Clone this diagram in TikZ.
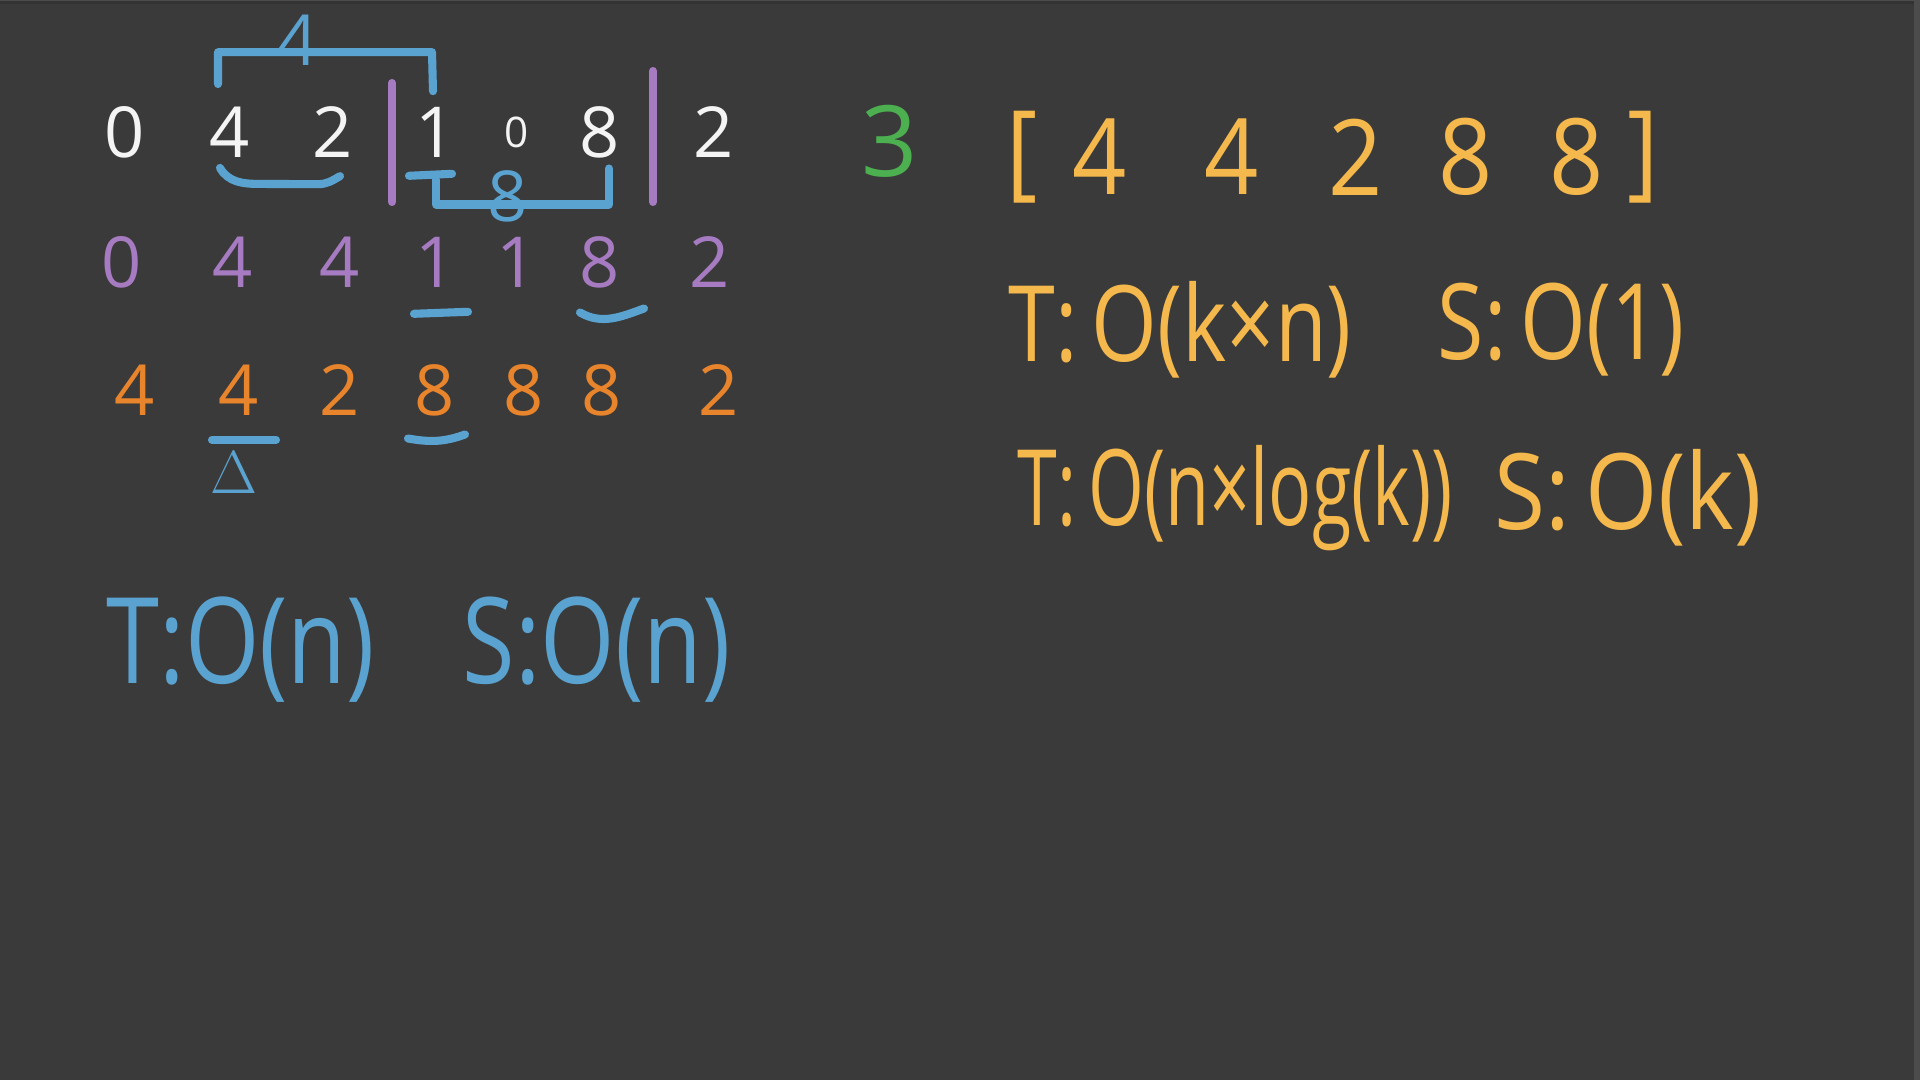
\documentclass[tikz,border=0pt]{standalone}
\usepackage{fontspec}
\setmainfont{Open Sans}
\usepackage{graphicx}
\usetikzlibrary{positioning,calc}
\definecolor{board-bg}{HTML}{3A3A3A}
\definecolor{ink-white}{HTML}{F4F4F4}
\definecolor{ink-purple}{HTML}{A77BC2}
\definecolor{ink-orange}{HTML}{E8852C}
\definecolor{ink-blue}{HTML}{5AA3D0}
\definecolor{ink-yellow}{HTML}{F4B84C}
\definecolor{ink-green}{HTML}{4CAF50}
\newcommand{\squeeze}[2][0.8]{\scalebox{#1}[1]{#2}}
\tikzset{
  digit/.style={inner sep=0pt,font=\fontsize{20}{20}\selectfont},
  bigtext/.style={inner sep=0pt,anchor=west,font=\fontsize{30}{30}\selectfont},
  pen/.style={line width=2.3pt,line cap=round,line join=round},
}

\begin{document}
\begin{tikzpicture}[x=0.01cm,y=-0.01cm]
  % board
  \fill[board-bg] (0,0) rectangle (1920,1080);
  \fill[black!80] (0,0) rectangle (1920,4);
  \fill[gray!60!black] (0,0) rectangle (1920,1.5);
  \fill[black!70] (1914,0) rectangle (1920,1080);
  \useasboundingbox (0,0) rectangle (1920,1080);

  % first row (input)
  \foreach \v/\x/\s [count=\i] in {0/125/20,4/230/20,2/333/20,1/436/20,0/517/12,8/600/20,2/714/20}
    \node[digit,text=ink-white,font=\fontsize{\s}{\s}\selectfont] (a\i) at (\x,132) {\v};
  % partition bars
  \coordinate (bar1top) at (392,83);  \coordinate (bar1bot) at (392,202);
  \coordinate (bar2top) at (653,71);  \coordinate (bar2bot) at (653,202);
  \draw[pen,ink-purple] (bar1top) -- (bar1bot);
  \draw[pen,ink-purple] (bar2top) -- (bar2bot);

  % second row (prefix max)
  \foreach \v/\x [count=\i] in {0/122,4/233,4/340,1/436,1/517,8/600,2/710}
    \node[digit,text=ink-purple] (b\i) at (\x,262) {\v};

  % third row (result)
  \foreach \v/\x [count=\i] in {4/135,4/239,2/340,8/435,8/524,8/602,2/719}
    \node[digit,text=ink-orange] (c\i) at (\x,390) {\v};

  % window brackets
  \draw[pen,ink-blue] ($(a2.north)+(-12,-22)$) |- ($(a4.north)+(-4,-54)$) -- ($(a4.north)+(-3,-15)$);
  \node[inner sep=0pt,text=ink-blue,font=\fontsize{20}{20}\selectfont] (w1) at (298,40) {4};
  \draw[pen,ink-blue] ($(a4.south)+(0,22)$) |- ($(a6.south)+(9,46)$) -- ($(a6.south)+(9,10)$);
  \node[inner sep=0pt,text=ink-blue,font=\fontsize{20}{20}\selectfont] (w2) at (508,196) {8};
  \draw[pen,ink-blue] ($(a2.south)+(-10,10)$) to[out=-60,in=180] ($(a2.south)+(30,26)$) -- ($(a3.south)+(-15,26)$) to[out=0,in=-150] ($(a3.south)+(7,18)$);
  \draw[pen,ink-blue] ($(a4.south)+(-27,18)$) -- ($(a4.south)+(16,16)$);

  % marks on second and third row
  \draw[pen,ink-blue] ($(b4.south)+(-22,26)$) -- ($(b4.south)+(32,24)$);
  \draw[pen,ink-blue] ($(b6.south)+(-20,24)$) to[out=-30,in=200] ($(b6.south)+(44,20)$);
  \draw[pen,ink-blue] ($(c2.south)+(-27,24)$) -- ($(c2.south)+(37,24)$);
  \draw[pen,ink-blue] ($(c4.south)+(-27,22)$) to[out=-10,in=200] ($(c4.south)+(30,18)$);
  \node[inner sep=0pt,text=ink-blue,font=\fontsize{18}{18}\selectfont] (tri) at (234,473) {$\Delta$};

  % complexity of the first approach
  \node[bigtext,text=ink-blue,font=\fontsize{34}{34}\selectfont] (tn) at (106,650) {\squeeze[0.8]{T:O(n)}};
  \node[bigtext,text=ink-blue,font=\fontsize{34}{34}\selectfont] (sn) at (462,650) {\squeeze[0.8]{S:O(n)}};

  % window size and output
  \node[inner sep=0pt,text=ink-green,font=\fontsize{28}{28}\selectfont] (k) at (890,141) {3};
  \foreach \v/\x [count=\i] in {[/1022,4/1100,4/1232,2/1356,8/1466,8/1577,]/1643}
    \node[inner sep=0pt,text=ink-yellow,font=\fontsize{30}{30}\selectfont] (r\i) at (\x,157) {\squeeze[0.9]{\v}};

  % complexities of the other approaches
  \node[bigtext,text=ink-yellow] (t1) at (1008,330) {\squeeze{T:\,O(k×n)}};
  \node[bigtext,text=ink-yellow] (s1) at (1437,330) {\squeeze{S:\,O(1)}};
  \node[bigtext,text=ink-yellow] (t2) at (1017,498) {\squeeze[0.68]{T:\,O(n×log(k))}};
  \node[bigtext,text=ink-yellow] (s2) at (1494,498) {\squeeze[0.88]{S:\,O(k)}};
\end{tikzpicture}
\end{document}
